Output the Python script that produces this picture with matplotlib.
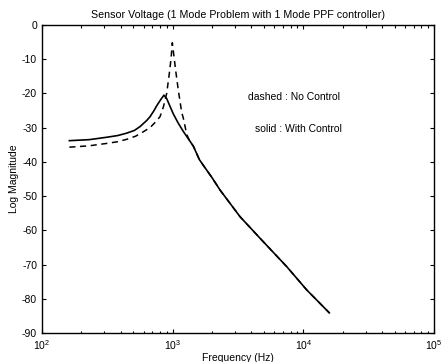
import matplotlib
matplotlib.use("Agg")
import matplotlib.pyplot as plt
from matplotlib.ticker import LogLocator, NullFormatter

plt.rcParams['font.family'] = ['Liberation Sans', 'DejaVu Sans']

# Data (frequency in Hz, magnitude in dB)
freq_solid = [162, 230, 313, 380, 445, 510, 562, 633, 671, 720, 755, 810, 858,
              900, 950, 1012, 1100, 1206, 1320, 1439, 1599, 1715, 2000, 2302,
              3275, 4659, 7460, 10610, 15800]
mag_solid = [-33.8, -33.5, -32.8, -32.3, -31.6, -30.8, -29.7, -27.9, -26.8, -25.0,
             -23.6, -21.8, -20.5, -21.5, -23.6, -26.0, -28.6, -31.1, -33.3, -35.4,
             -39.3, -41.0, -44.6, -48.2, -56.0, -62.3, -70.6, -77.4, -84.1]

freq_dashed = [162, 230, 313, 380, 445, 520, 596, 671, 732, 800, 848, 900, 943,
               971, 994, 1029, 1060, 1104, 1172, 1206, 1281, 1350, 1439, 1599,
               1715, 2000, 2302, 3275, 4659, 7460, 10610, 15800]
mag_dashed = [-35.7, -35.3, -34.6, -34.1, -33.4, -32.5, -31.2, -30.0, -28.5, -26.8,
              -24.0, -20.0, -14.1, -10.0, -5.2, -10.0, -14.0, -19.0, -25.5, -27.2,
              -32.0, -33.9, -35.4, -39.3, -41.0, -44.6, -48.2, -56.0, -62.3, -70.6,
              -77.4, -84.1]

yticks = [0, -10, -20, -30, -40, -50, -60, -70, -80, -90]

fig = plt.figure(figsize=(4.42, 3.62), dpi=100)
ax = fig.add_axes([0.095, 0.080, 0.887, 0.851])

ax.semilogx(freq_dashed, mag_dashed, color='black', linestyle=(0, (4, 3)), linewidth=1.1)
ax.semilogx(freq_solid, mag_solid, color='black', linestyle='-', linewidth=1.2)

ax.set_xlim(1e2, 1e5)
ax.set_ylim(-90, 0)
ax.set_yticks(yticks)
ax.set_yticklabels([str(v) for v in yticks])
ax.xaxis.set_major_locator(LogLocator(base=10, numticks=10))
ax.xaxis.set_minor_locator(LogLocator(base=10, subs=range(2, 10), numticks=20))
ax.xaxis.set_minor_formatter(NullFormatter())

ax.tick_params(which='both', direction='in', top=True, right=True, labelsize=7.5, width=0.8)
ax.tick_params(which='major', length=3)
ax.tick_params(which='minor', length=1.8)
for s in ax.spines.values():
    s.set_linewidth(1.0)

ax.set_title('Sensor Voltage (1 Mode Problem with 1 Mode PPF controller)', fontsize=7.7, pad=5)
ax.set_xlabel('Frequency (Hz)', fontsize=7.5, labelpad=1)
ax.set_ylabel('Log Magnitude', fontsize=7.5, labelpad=2)

ax.text(3800, -21.0, 'dashed : No Control', fontsize=7.5, va='center', ha='left')
ax.text(4300, -30.3, 'solid : With Control', fontsize=7.5, va='center', ha='left')

fig.savefig('out.png', dpi=100)
